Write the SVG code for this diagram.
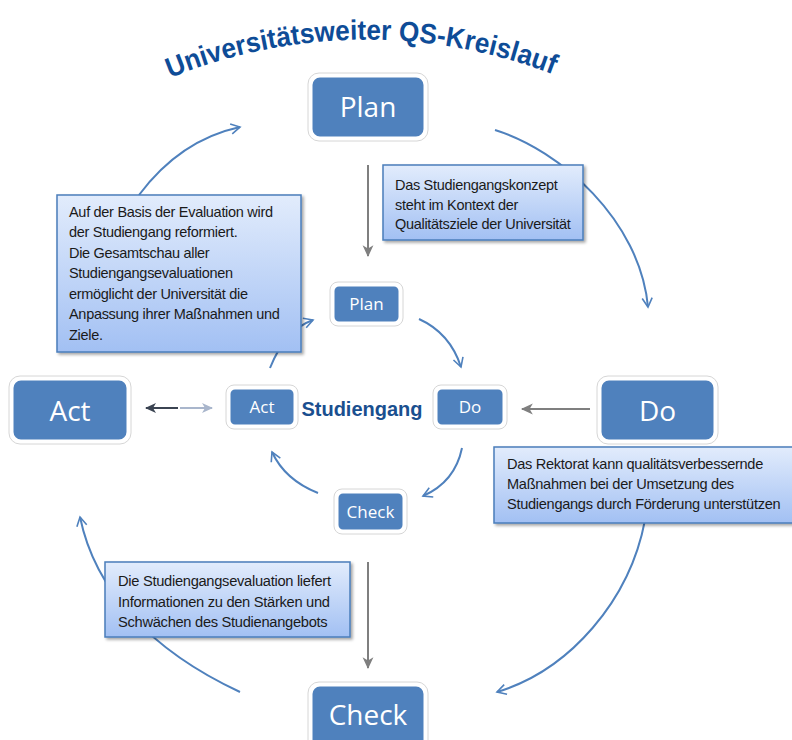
<svg xmlns="http://www.w3.org/2000/svg" width="792" height="740" viewBox="0 0 792 740">
<defs>
<linearGradient id="cg" x1="0" y1="0" x2="0" y2="1">
<stop offset="0" stop-color="#e2ecfc"/>
<stop offset="1" stop-color="#a2c0f3"/>
</linearGradient>
<linearGradient id="ag" x1="0" y1="0" x2="1" y2="0">
<stop offset="0" stop-color="#3b4452"/>
<stop offset="1" stop-color="#a9b6cc"/>
</linearGradient>
<filter id="sh" x="-10%" y="-10%" width="125%" height="130%">
<feDropShadow dx="2" dy="2" stdDeviation="1.5" flood-color="#000" flood-opacity="0.35"/>
</filter>
<marker id="open" viewBox="0 0 12 12" refX="10" refY="6" markerWidth="12" markerHeight="12" markerUnits="userSpaceOnUse" orient="auto">
<path d="M1,1 L10,6 L1,11" fill="none" stroke="#4f81bd" stroke-width="1.6"/>
</marker>
<marker id="gray" viewBox="0 0 12 12" refX="10" refY="6" markerWidth="13" markerHeight="13" markerUnits="userSpaceOnUse" orient="auto">
<path d="M0,1 L11,6 L0,11 L3,6 Z" fill="#7f7f7f"/>
</marker>
<marker id="dk" viewBox="0 0 12 12" refX="10" refY="6" markerWidth="12" markerHeight="12" markerUnits="userSpaceOnUse" orient="auto">
<path d="M0,1 L11,6 L0,11 L3,6 Z" fill="#3b4452"/>
</marker>
<marker id="lt" viewBox="0 0 12 12" refX="10" refY="6" markerWidth="12" markerHeight="12" markerUnits="userSpaceOnUse" orient="auto">
<path d="M0,1 L11,6 L0,11 L3,6 Z" fill="#a9b6cc"/>
</marker>
<path id="arc" d="M 170 78 A 520 520 0 0 1 562 78"/>
</defs>
<style>
.node rect.b{fill:#4f81bd;stroke:#ffffff;stroke-width:3}
.node rect.o{fill:none;stroke:#d6d6d6;stroke-width:1}
.lbl{font-family:"Open Sans","Noto Sans",sans-serif;fill:#ffffff;text-anchor:middle}
.big{font-size:28px}
.sm{font-size:17px}
.call rect{fill:url(#cg);stroke:#4a7ebb;stroke-width:1.5;filter:url(#sh)}
.call text{font-family:"Liberation Sans",Arial,sans-serif;fill:#1a1a1a;letter-spacing:-0.3px}
.arc{fill:none;stroke:#4f81bd;stroke-width:2;marker-end:url(#open)}
.st{fill:none;stroke:#7f7f7f;stroke-width:2;marker-end:url(#gray)}
</style>
<rect width="792" height="740" fill="#ffffff"/>

<text font-family="Liberation Sans,Arial,sans-serif" font-weight="bold" font-size="28" fill="#0e4c97"><textPath href="#arc" textLength="392" lengthAdjust="spacingAndGlyphs">Universitätsweiter QS-Kreislauf</textPath></text>

<g id="connectors">
<path class="arc" d="M 139 195 Q 180 140 240 127"/>
<path class="arc" d="M 495 130 C 560 150 640 220 648 307"/>
<path class="arc" d="M 645 520 C 630 600 570 670 497 692"/>
<path class="arc" d="M 240 692 C 150 650 95 590 80 517"/>
<path class="arc" d="M 419 319 Q 450 333 461 367"/>
<path class="arc" d="M 462 448 Q 455 482 423 496"/>
<path class="arc" d="M 318 493 Q 285 480 272 452"/>
<path class="arc" d="M 270 368 Q 285 330 313 320"/>
<path class="st" d="M 368 165 L 368 256"/>
<path class="st" d="M 590 409 L 522 409"/>
<path class="st" d="M 368 562 L 368 668"/>
<path d="M 150 408 L 206 408" fill="none" stroke="url(#ag)" stroke-width="2"/>
<path d="M 178 408 L 146 408" fill="none" stroke="#3b4452" stroke-width="2" marker-end="url(#dk)"/>
<path d="M 180 408 L 212 408" fill="none" stroke="#a9b6cc" stroke-width="2" marker-end="url(#lt)"/>
</g>

<g id="plan-big" class="node">
<rect class="o" x="308" y="73" width="120" height="68" rx="11"/>
<rect class="b" x="311" y="76" width="114" height="62" rx="9"/>
<text class="lbl big" x="368" y="117">Plan</text>
</g>
<g id="act-big" class="node">
<rect class="o" x="9" y="376" width="122" height="68" rx="11"/>
<rect class="b" x="12" y="379" width="116" height="62" rx="9"/>
<text class="lbl big" x="70" y="421">Act</text>
</g>
<g id="do-big" class="node">
<rect class="o" x="597" y="376" width="121" height="68" rx="11"/>
<rect class="b" x="600" y="379" width="115" height="62" rx="9"/>
<text class="lbl big" x="657.5" y="421">Do</text>
</g>
<g id="check-big" class="node">
<rect class="o" x="308" y="682" width="120" height="70" rx="11"/>
<rect class="b" x="311" y="685" width="114" height="64" rx="9"/>
<text class="lbl big" x="368" y="725">Check</text>
</g>

<g id="plan-small" class="node">
<rect class="o" x="330" y="282" width="73" height="44" rx="8"/>
<rect class="b" x="333" y="285" width="67" height="38" rx="6"/>
<text class="lbl sm" x="366.5" y="310">Plan</text>
</g>
<g id="act-small" class="node">
<rect class="o" x="226" y="385" width="72" height="44" rx="8"/>
<rect class="b" x="229" y="388" width="66" height="38" rx="6"/>
<text class="lbl sm" x="262" y="413">Act</text>
</g>
<g id="do-small" class="node">
<rect class="o" x="433" y="385" width="74" height="44" rx="8"/>
<rect class="b" x="436" y="388" width="68" height="38" rx="6"/>
<text class="lbl sm" x="470" y="413">Do</text>
</g>
<g id="check-small" class="node">
<rect class="o" x="334" y="489" width="73" height="45" rx="8"/>
<rect class="b" x="337" y="492" width="67" height="39" rx="6"/>
<text class="lbl sm" x="370.5" y="518">Check</text>
</g>

<g id="studiengang">
<text x="362" y="416" font-family="Liberation Sans,Arial,sans-serif" font-weight="bold" font-size="20" fill="#1a4f8f" text-anchor="middle">Studiengang</text>
</g>

<g id="note-plan" class="call">
<rect x="383" y="165" width="200" height="75"/>
<text font-size="14.5"><tspan x="395" y="190">Das Studiengangskonzept</tspan><tspan x="395" y="210">steht im Kontext der</tspan><tspan x="395" y="229">Qualitätsziele der Universität</tspan></text>
</g>
<g id="note-act" class="call">
<rect x="57" y="195" width="244" height="157"/>
<text font-size="14.5"><tspan x="69" y="217">Auf der Basis der Evaluation wird</tspan><tspan x="69" y="237">der Studiengang reformiert.</tspan><tspan x="69" y="258">Die Gesamtschau aller</tspan><tspan x="69" y="278">Studiengangsevaluationen</tspan><tspan x="69" y="299">ermöglicht der Universität die</tspan><tspan x="69" y="319">Anpassung ihrer Maßnahmen und</tspan><tspan x="69" y="340">Ziele.</tspan></text>
</g>
<g id="note-do" class="call">
<rect x="494" y="447" width="300" height="76"/>
<text font-size="14.6"><tspan x="507" y="469">Das Rektorat kann qualitätsverbessernde</tspan><tspan x="507" y="489">Maßnahmen bei der Umsetzung des</tspan><tspan x="507" y="509">Studiengangs durch Förderung unterstützen</tspan></text>
</g>
<g id="note-check" class="call">
<rect x="105" y="562" width="245" height="75"/>
<text font-size="14.7"><tspan x="118" y="586">Die Studiengangsevaluation liefert</tspan><tspan x="118" y="607">Informationen zu den Stärken und</tspan><tspan x="118" y="627">Schwächen des Studienangebots</tspan></text>
</g>
</svg>
